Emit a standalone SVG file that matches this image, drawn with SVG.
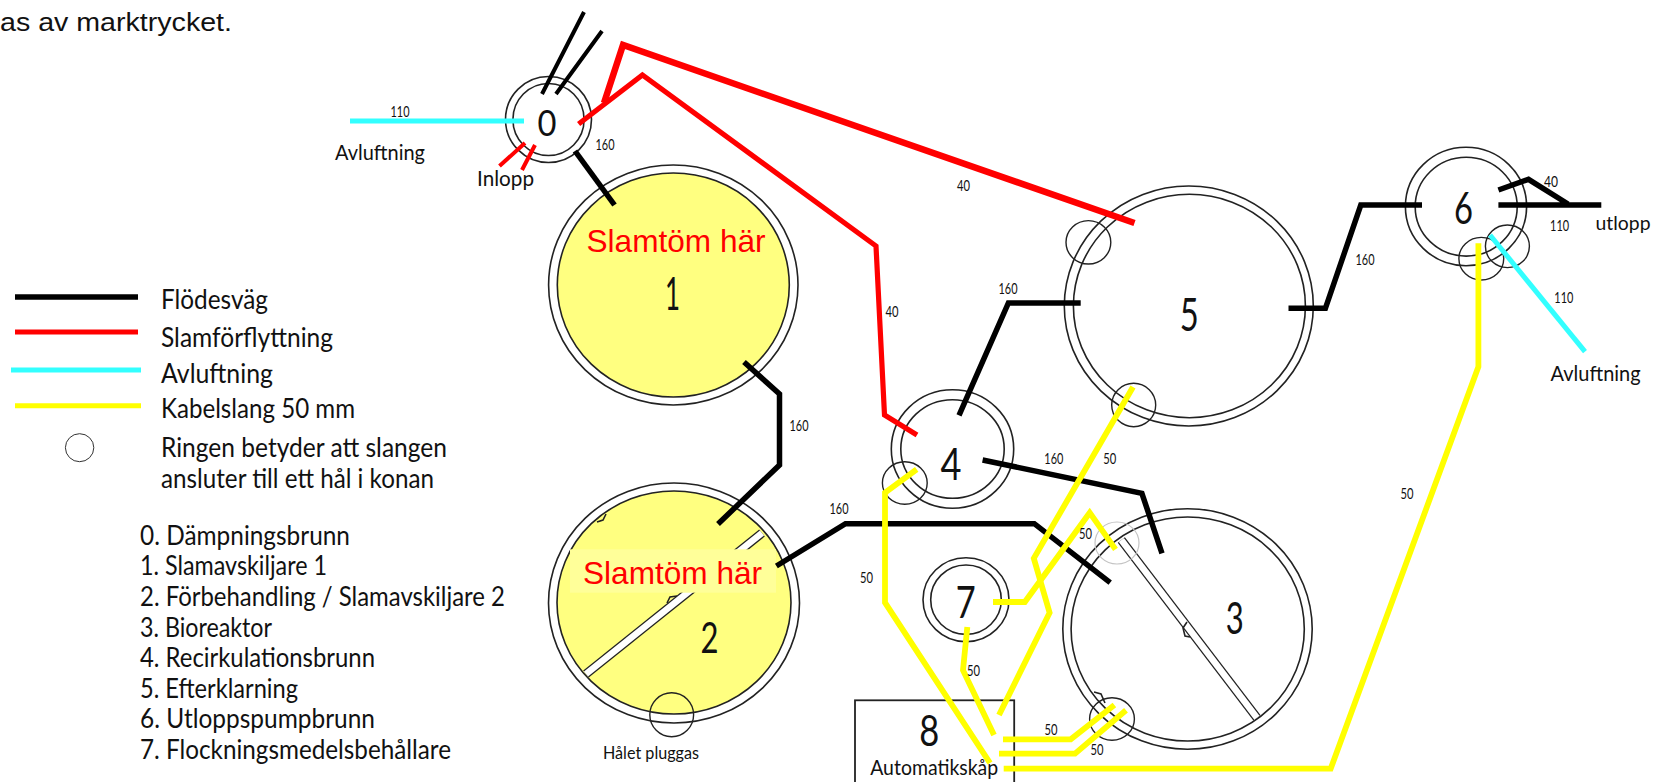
<svg xmlns="http://www.w3.org/2000/svg" width="1654" height="782" viewBox="0 0 1654 782">
<style>
text{font-family:"Lato","Open Sans",sans-serif;fill:#111}
.ring{fill:none;stroke:#222;stroke-width:1.6}
.hole{fill:none;stroke:#222;stroke-width:1.4}
.y{fill:#ffff80}
.band{fill:none;stroke:#222;stroke-width:9}
.bandw{fill:none;stroke:#fff;stroke-width:6.5}
.k,.r,.c,.l{fill:none;stroke-linejoin:miter}
.k{stroke:#000;stroke-width:5.5}
.r{stroke:#f00;stroke-width:5.2}
.c{stroke:#33ffff;stroke-width:5}
.l{stroke:#ffff00;stroke-width:5.8}
.n{font-size:15px;text-anchor:middle}
.d{font-size:46px;text-anchor:middle}
.m{font-size:22px}
.t{font-size:27px}
.red{font-family:"Liberation Sans",Arial,sans-serif;font-size:31.6px;fill:#f00}
</style>
<rect width="1654" height="782" fill="#fff"/>
<text x="0" y="31" font-size="26" style="font-family:'Liberation Sans',Arial,sans-serif" textLength="232" lengthAdjust="spacingAndGlyphs">as av marktrycket.</text>

<g id="legend">
<path class="k" d="M15 297H138"/>
<path class="r" d="M15 332H138"/>
<path class="c" d="M11 370H141"/>
<path class="l" style="stroke-width:5" d="M15 405.7H141"/>
<ellipse cx="79.6" cy="447.7" rx="14.2" ry="14" fill="none" stroke="#333" stroke-width="1"/>
<text class="t" x="161" y="309" textLength="107" lengthAdjust="spacingAndGlyphs">Flödesväg</text>
<text class="t" x="161" y="346.7" textLength="172" lengthAdjust="spacingAndGlyphs">Slamförflyttning</text>
<text class="t" x="161" y="383" textLength="112" lengthAdjust="spacingAndGlyphs">Avluftning</text>
<text class="t" x="161" y="418" textLength="194" lengthAdjust="spacingAndGlyphs">Kabelslang 50 mm</text>
<text class="t" x="161" y="457" textLength="286" lengthAdjust="spacingAndGlyphs">Ringen betyder att slangen</text>
<text class="t" x="161" y="487.7" textLength="273" lengthAdjust="spacingAndGlyphs">ansluter till ett hål i konan</text>
<text class="t" x="140" y="545" textLength="210" lengthAdjust="spacingAndGlyphs">0. Dämpningsbrunn</text>
<text class="t" x="140" y="575" textLength="187" lengthAdjust="spacingAndGlyphs">1. Slamavskiljare 1</text>
<text class="t" x="140" y="606" textLength="365" lengthAdjust="spacingAndGlyphs">2. Förbehandling / Slamavskiljare 2</text>
<text class="t" x="140" y="636.7" textLength="132" lengthAdjust="spacingAndGlyphs">3. Bioreaktor</text>
<text class="t" x="140" y="667" textLength="235" lengthAdjust="spacingAndGlyphs">4. Recirkulationsbrunn</text>
<text class="t" x="140" y="697.7" textLength="158" lengthAdjust="spacingAndGlyphs">5. Efterklarning</text>
<text class="t" x="140" y="728" textLength="235" lengthAdjust="spacingAndGlyphs">6. Utloppspumpbrunn</text>
<text class="t" x="140" y="758.7" textLength="311" lengthAdjust="spacingAndGlyphs">7. Flockningsmedelsbehållare</text>
</g>

<g id="node0">
<ellipse class="ring" cx="548.5" cy="119.5" rx="43" ry="43"/>
<ellipse class="ring" cx="548.5" cy="119.5" rx="35.6" ry="36"/>
<text class="d" x="547" y="136" style="font-size:37px" textLength="19" lengthAdjust="spacingAndGlyphs">0</text>
</g>
<g id="node1">
<ellipse class="ring" cx="673.3" cy="285" rx="124.7" ry="120"/>
<ellipse class="ring y" cx="673.3" cy="285" rx="116" ry="112"/>
<text class="red" x="586.5" y="251.7">Slamtöm här</text>
<text class="d" x="672.5" y="310" textLength="15" lengthAdjust="spacingAndGlyphs">1</text>
</g>
<g id="node2">
<ellipse class="ring" cx="674" cy="603" rx="125.5" ry="120"/>
<ellipse class="ring y" cx="674" cy="602.5" rx="117" ry="111.5"/>
<path class="band" d="M586 674L762 533"/>
<path class="bandw" d="M586 674L762 533"/>
<path class="ring" d="M597 522l6 -2 3 -6M667 603l3 -6 7 -1"/>
<rect x="570" y="549.3" width="206" height="43.4" fill="#ffff99"/>
<text class="red" x="583" y="584.3">Slamtöm här</text>
<text class="d" x="709.4" y="652.7" style="font-size:43px" textLength="18" lengthAdjust="spacingAndGlyphs">2</text>
<ellipse class="hole" cx="671.7" cy="714.7" rx="21.9" ry="22"/>
<text class="m" x="603" y="758.7" style="font-size:18px" textLength="96" lengthAdjust="spacingAndGlyphs">Hålet pluggas</text>
</g>
<g id="node3">
<ellipse class="ring" cx="1187.5" cy="629" rx="124.7" ry="120.3"/>
<ellipse class="ring" cx="1187.7" cy="629" rx="116.6" ry="112"/>
<path class="band" d="M1121.3 540L1256.9 717.7"/>
<path class="bandw" d="M1121.3 540L1256.9 717.7"/>
<path class="ring" d="M1187 622l-4 6 2 8 5 1M1094 692l7 2 4 9"/>
<text class="d" x="1234.7" y="633.7" style="font-size:44px" textLength="18" lengthAdjust="spacingAndGlyphs">3</text>
<ellipse class="hole" cx="1112" cy="719" rx="22.4" ry="21.3"/>
<ellipse cx="1117" cy="543" rx="22" ry="21" fill="none" stroke="#c4c4c4" stroke-width="1.2"/>
</g>
<g id="node4">
<ellipse class="ring" cx="952.5" cy="449" rx="61.2" ry="59.3"/>
<ellipse class="ring" cx="952.5" cy="449" rx="51.7" ry="49.3"/>
<text class="d" x="951" y="480" style="font-size:44px" textLength="21" lengthAdjust="spacingAndGlyphs">4</text>
<ellipse class="hole" cx="904.8" cy="483" rx="22.4" ry="21.3"/>
</g>
<g id="node5">
<ellipse class="ring" cx="1188.8" cy="306" rx="124.5" ry="120"/>
<ellipse class="ring" cx="1189.4" cy="306" rx="116" ry="111.7"/>
<text class="d" x="1189.3" y="331" textLength="19" lengthAdjust="spacingAndGlyphs">5</text>
<ellipse class="hole" cx="1088.4" cy="242.3" rx="22.4" ry="21.7"/>
<ellipse class="hole" cx="1133.7" cy="405" rx="22" ry="21.7"/>
</g>
<g id="node6">
<ellipse class="ring" cx="1466" cy="206.5" rx="60.6" ry="59.2"/>
<ellipse class="ring" cx="1466.2" cy="206.7" rx="51" ry="49.4"/>
<text class="d" x="1463.6" y="224" style="font-size:44px" textLength="19" lengthAdjust="spacingAndGlyphs">6</text>
<ellipse class="hole" cx="1481.3" cy="258.7" rx="22.4" ry="21.3"/>
<ellipse class="hole" cx="1507.4" cy="246.3" rx="22" ry="21.3"/>
</g>
<g id="node7">
<ellipse class="ring" cx="966" cy="599.7" rx="43" ry="42"/>
<ellipse class="ring" cx="966" cy="599.7" rx="35.3" ry="34.7"/>
<text class="d" x="965.7" y="617.7" style="font-size:44px" textLength="20" lengthAdjust="spacingAndGlyphs">7</text>
</g>
<g id="node8">
<rect x="855" y="700.3" width="159.2" height="95" fill="none" stroke="#222" stroke-width="1.8"/>
<text class="d" x="929.3" y="746" style="font-size:43px" textLength="20" lengthAdjust="spacingAndGlyphs">8</text>
<text class="m" x="870.2" y="775" textLength="128" lengthAdjust="spacingAndGlyphs">Automatikskåp</text>
</g>

<g id="connectors">
<path class="k" style="stroke-width:4" d="M584 12L542 94M602 31L556 94"/>
<path class="k" d="M575 151L614.5 205"/>
<path class="k" d="M744 362L779.5 394V465L718 524"/>
<path class="k" d="M776.4 566L845.5 523.7H1034.3L1110.2 582.7"/>
<path class="k" d="M982.6 460L1141.9 493.3L1162 553.3"/>
<path class="k" d="M1080.7 303H1008.4L959 415.3"/>
<path class="k" d="M1288.5 308.3H1325.4L1360.8 205H1422"/>
<path class="k" d="M1498.4 205H1601.3M1498.4 190L1528.5 179.3L1568 204"/>
<path class="r" style="stroke-width:4" d="M499.5 166L525 143M522 170L535 145"/>
<path class="r" d="M578.6 124L642.4 75L876 246L884.5 415L917 435"/>
<path class="r" style="stroke-width:6.5" d="M604 103L623 45L1134.5 223"/>
<path class="c" d="M350 121H524"/>
<path class="c" d="M1490 235L1585 351.7"/>
<path class="l" d="M1478.4 243.3V366.7L1330.7 768.7H1003.7"/>
<path class="l" d="M916.7 469.3L885 492.7V602.7L990 763"/>
<path class="l" d="M1133 387L1033.8 558.3L1049.6 612.7L999 715"/>
<path class="l" d="M993 602H1024.8L1089.7 512.7L1115.5 549.3"/>
<path class="l" d="M967.3 627L963 670.3L994 735"/>
<path class="l" d="M1114.4 705L1070.7 739.3H1003"/>
<path class="l" d="M1126 710.3L1075 753.7H999"/>
</g>

<g id="labels">
<text class="n" x="400" y="117" textLength="19" lengthAdjust="spacingAndGlyphs">110</text>
<text class="m" x="335" y="160" textLength="90" lengthAdjust="spacingAndGlyphs">Avluftning</text>
<text class="m" x="477" y="186" textLength="57" lengthAdjust="spacingAndGlyphs">Inlopp</text>
<text class="n" x="605" y="150" textLength="19" lengthAdjust="spacingAndGlyphs">160</text>
<text class="n" x="799" y="431" textLength="19" lengthAdjust="spacingAndGlyphs">160</text>
<text class="n" x="963.6" y="190.7" textLength="13" lengthAdjust="spacingAndGlyphs">40</text>
<text class="n" x="891.9" y="317.3" textLength="13" lengthAdjust="spacingAndGlyphs">40</text>
<text class="n" x="1008" y="294" textLength="19" lengthAdjust="spacingAndGlyphs">160</text>
<text class="n" x="1365" y="265" textLength="19" lengthAdjust="spacingAndGlyphs">160</text>
<text class="n" x="1551" y="186.7" textLength="14" lengthAdjust="spacingAndGlyphs">40</text>
<text class="n" x="1559.6" y="230.7" textLength="19" lengthAdjust="spacingAndGlyphs">110</text>
<text class="n" x="1563.8" y="303.3" textLength="19" lengthAdjust="spacingAndGlyphs">110</text>
<text class="m" x="1595.5" y="230" style="font-size:20px" textLength="55" lengthAdjust="spacingAndGlyphs">utlopp</text>
<text class="m" x="1550.6" y="381" textLength="90" lengthAdjust="spacingAndGlyphs">Avluftning</text>
<text class="n" x="1053.8" y="464.3" textLength="19" lengthAdjust="spacingAndGlyphs">160</text>
<text class="n" x="1109.7" y="464.3" textLength="13" lengthAdjust="spacingAndGlyphs">50</text>
<text class="n" x="839" y="514.3" textLength="19" lengthAdjust="spacingAndGlyphs">160</text>
<text class="n" x="866.6" y="583" textLength="13" lengthAdjust="spacingAndGlyphs">50</text>
<text class="n" x="1085.4" y="539.3" textLength="13" lengthAdjust="spacingAndGlyphs">50</text>
<text class="n" x="973.6" y="676" textLength="13" lengthAdjust="spacingAndGlyphs">50</text>
<text class="n" x="1051" y="735.3" textLength="13" lengthAdjust="spacingAndGlyphs">50</text>
<text class="n" x="1097" y="755" textLength="13" lengthAdjust="spacingAndGlyphs">50</text>
<text class="n" x="1407" y="499" textLength="13" lengthAdjust="spacingAndGlyphs">50</text>
</g>
</svg>
